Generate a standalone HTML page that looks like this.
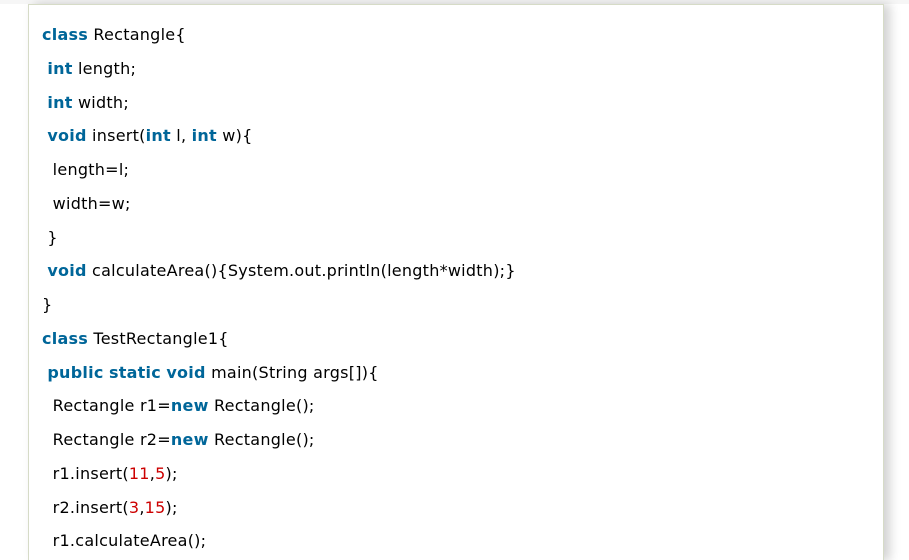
<!DOCTYPE html>
<html><head><style>
html,body{margin:0;padding:0;background:#fff;width:909px;height:560px;overflow:hidden;position:relative}
.box{position:absolute;left:28px;top:4px;width:854px;height:556px;background:#fff;border:1px solid #d6dbc7;border-bottom:none;box-shadow:6px 0 10px rgba(0,0,0,0.18)}
.top{position:absolute;left:0;top:0;width:909px;height:4px;background:#f6f6f6}
pre{position:absolute;left:42px;top:18px;margin:0;font-family:"DejaVu Sans","Liberation Sans",sans-serif;font-size:16px;line-height:33.75px;color:#000;letter-spacing:0.25px}
b{color:#006699}
i{color:#c00;font-style:normal}
</style></head><body>
<div class="top"></div>
<div class="box"></div>
<pre><b>class</b> Rectangle{
 <b>int</b> length;
 <b>int</b> width;
 <b>void</b> insert(<b>int</b> l, <b>int</b> w){
  length=l;
  width=w;
 }
 <b>void</b> calculateArea(){System.out.println(length*width);}
}
<b>class</b> TestRectangle1{
 <b>public</b> <b>static</b> <b>void</b> main(String args[]){
  Rectangle r1=<b>new</b> Rectangle();
  Rectangle r2=<b>new</b> Rectangle();
  r1.insert(<i>11</i>,<i>5</i>);
  r2.insert(<i>3</i>,<i>15</i>);
  r1.calculateArea();</pre>
</body></html>
